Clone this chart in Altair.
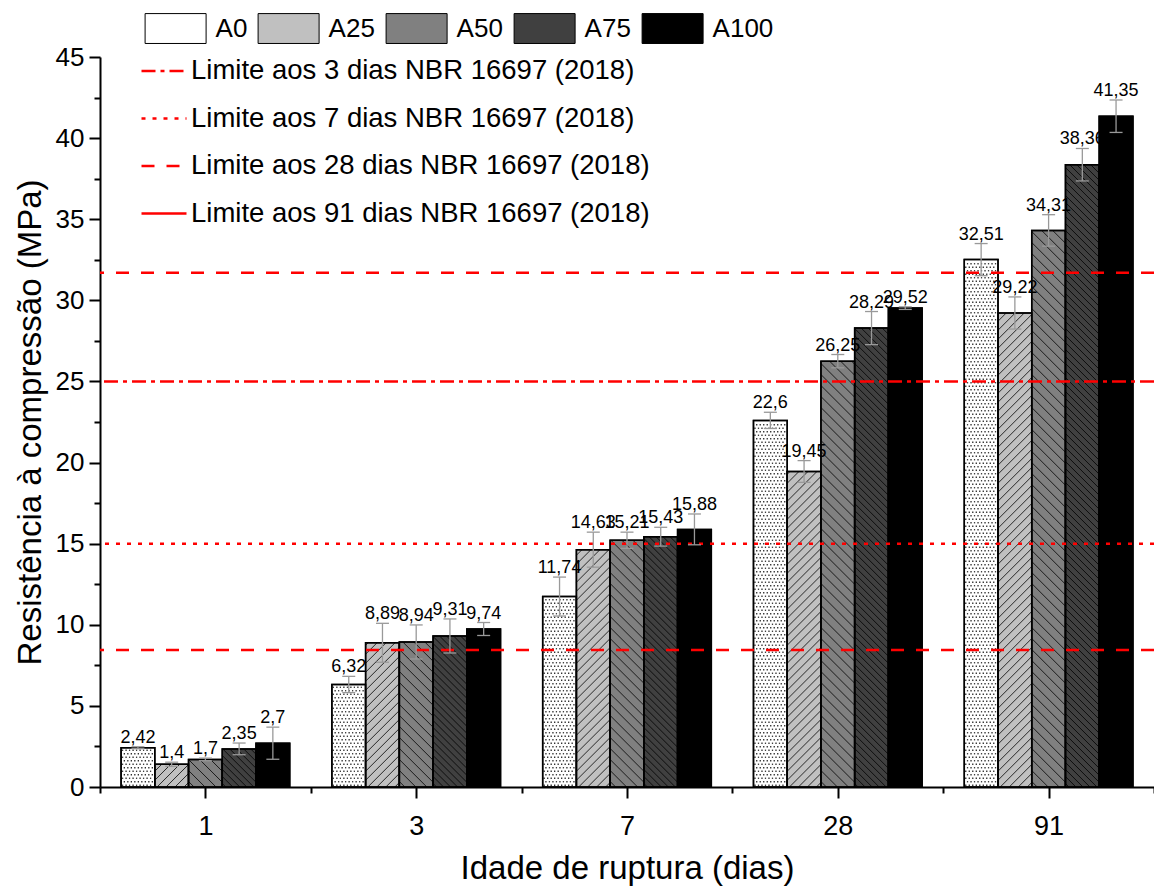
import json
import altair as alt
import pandas as pd

# Idades de ruptura (dias) e traços de argamassa
idades = ["1", "3", "7", "28", "91"]
series = ["A0", "A25", "A50", "A75", "A100"]

# Resistência média à compressão (MPa) por idade
A0 = [2.42, 6.32, 11.74, 22.6, 32.51]
A25 = [1.4, 8.89, 14.63, 19.45, 29.22]
A50 = [1.7, 8.94, 15.21, 26.25, 34.31]
A75 = [2.35, 9.31, 15.43, 28.29, 38.36]
A100 = [2.7, 9.74, 15.88, 29.52, 41.35]

# Desvio padrão (MPa)
dp_A0 = [0.06, 0.5, 1.2, 0.5, 0.99]
dp_A25 = [0.13, 1.2, 1.08, 0.67, 0.99]
dp_A50 = [0.08, 1.05, 0.5, 0.41, 0.97]
dp_A75 = [0.36, 1.05, 0.58, 1.02, 1.0]
dp_A100 = [0.99, 0.4, 0.95, 0.08, 1.0]

# Limites normativos (MPa)
limites_nome = [
    "Limite aos 3 dias NBR 16697 (2018)",
    "Limite aos 7 dias NBR 16697 (2018)",
    "Limite aos 28 dias NBR 16697 (2018)",
    "Limite aos 91 dias NBR 16697 (2018)",
]
limites_valor = [25.0, 15.0, 8.45, 31.7]

resist = [A0, A25, A50, A75, A100]
desvio = [dp_A0, dp_A25, dp_A50, dp_A75, dp_A100]

# --- aparência ---
cores = ["#ffffff", "#c0c0c0", "#808080", "#404040", "#000000"]
tracos = [[14, 5, 4, 5], [4, 7], [13, 12], [1, 0]]
hachura = {"A25": ("/", 9), "A50": ("\\", 11), "A75": ("\\", 7)}

LARG, ALT = 1054, 730
YMAX = 45
PX_X = LARG / len(idades)
PX_Y = ALT / YMAX
MARGEM = 0.1
BARRA = 0.16
CAPA = 6.5 / PX_X
FONTE = "Liberation Sans"


def linhas_hachura(x0, valor, sentido, passo):
    bw, bh = BARRA * PX_X, valor * PX_Y
    segs = []
    if sentido == "/":
        c = -bw + passo / 2
        while c < bh:
            xa, xb = max(0.0, -c), min(bw, bh - c)
            if xb > xa:
                segs.append((xa, xa + c, xb, xb + c))
            c += passo
    else:
        c = passo / 2
        while c < bh + bw:
            xa, xb = max(0.0, c - bh), min(bw, c)
            if xb > xa:
                segs.append((xa, c - xa, xb, c - xb))
            c += passo
    return [(x0 + a / PX_X, b / PX_Y, x0 + e / PX_X, d / PX_Y) for a, b, e, d in segs]


def pontilhado(x0, valor, passo=3.5):
    bw, bh = BARRA * PX_X, valor * PX_Y
    pts, y, r = [], passo / 2, 0
    while y < bh - 1:
        x = 1.5 + (r % 2) * passo / 2
        while x < bw - 1:
            pts.append((x0 + x / PX_X, y / PX_Y))
            x += passo
        y += passo
        r += 1
    return pts


barras, riscos, pontos = [], [], []
for i, idade in enumerate(idades):
    for k, s in enumerate(series):
        v, d = resist[k][i], desvio[k][i]
        x0 = i + MARGEM + k * BARRA
        xc = x0 + BARRA / 2
        barras.append({
            "idade": idade, "serie": s, "valor": v, "base": 0.0,
            "x0": x0, "x1": x0 + BARRA, "xc": xc,
            "topo": v + d, "baixo": v - d,
            "capa_l": xc - CAPA, "capa_r": xc + CAPA,
            "rotulo": str(v).replace(".", ","),
        })
        if s in hachura:
            sentido, passo = hachura[s]
            for a, b, e, f in linhas_hachura(x0, v, sentido, passo):
                riscos.append({"xa": a, "ya": b, "xb": e, "yb": f})
        if s == "A0":
            for a, b in pontilhado(x0, v):
                pontos.append({"px": a, "py": b})

df_barras = pd.DataFrame(barras)
df_riscos = pd.DataFrame(riscos)
df_pontos = pd.DataFrame(pontos)
df_limites = pd.DataFrame({"limite": limites_nome, "valor": limites_valor})

x_scale = alt.Scale(domain=[0, len(idades)], nice=False, zero=False)
y_scale = alt.Scale(domain=[0, YMAX], nice=False, zero=True)

AX_X = alt.Axis(
    values=[j * 0.5 for j in range(2 * len(idades) + 1)],
    labelExpr="datum.value % 1 === 0.5 ? " + json.dumps(idades) + "[floor(datum.value)] : ''",
    tickSize={"condition": {"test": "datum.value % 1 === 0.5", "value": 11}, "value": 6},
    tickWidth=2, tickColor="black", domainWidth=2, domainColor="black",
    labelFontSize=27, labelPadding=15, labelColor="black", labelOverlap=False,
    labelFont=FONTE, grid=False,
    title="Idade de ruptura (dias)", titleFontSize=33, titleFontWeight="normal",
    titleFont=FONTE, titleColor="black", titlePadding=13,
)
AX_Y = alt.Axis(
    values=[j * 2.5 for j in range(int(YMAX / 2.5) + 1)],
    labelExpr="datum.value % 5 === 0 ? datum.label : ''",
    tickSize={"condition": {"test": "datum.value % 5 === 0", "value": 11}, "value": 6},
    tickWidth=2, tickColor="black", domainWidth=2, domainColor="black",
    labelFontSize=26, labelPadding=5, labelColor="black", labelOverlap=False,
    labelFont=FONTE, grid=False,
    title="Resistência à compressão (MPa)", titleFontSize=33, titleFontWeight="normal",
    titleFont=FONTE, titleColor="black", titlePadding=8,
)

base_b = alt.Chart(df_barras)

barras_ch = base_b.mark_rect(stroke="black", strokeWidth=1.5).encode(
    x=alt.X("x0:Q", scale=x_scale, axis=AX_X),
    x2="x1:Q",
    y=alt.Y("valor:Q", scale=y_scale, axis=AX_Y),
    y2="base:Q",
    fill=alt.Fill(
        "serie:N",
        scale=alt.Scale(domain=series, range=cores),
        legend=alt.Legend(
            title=None, orient="none", legendX=44.6, legendY=-59.5,
            direction="horizontal", columns=len(series),
            symbolType="M-1,-0.49H1V0.49H-1Z", symbolSize=3721,
            symbolStrokeColor="black", symbolStrokeWidth=1,
            labelFontSize=26, labelFont=FONTE, labelColor="black",
            labelOffset=9, columnPadding=8, padding=0,
        ),
    ),
)

pontos_ch = alt.Chart(df_pontos).mark_square(size=1.6, color="black", opacity=0.85).encode(
    x=alt.X("px:Q", scale=x_scale, axis=AX_X),
    y=alt.Y("py:Q", scale=y_scale, axis=AX_Y),
)

riscos_ch = alt.Chart(df_riscos).mark_rule(color="black", strokeWidth=0.8).encode(
    x=alt.X("xa:Q", scale=x_scale, axis=AX_X),
    x2="xb:Q",
    y=alt.Y("ya:Q", scale=y_scale, axis=AX_Y),
    y2="yb:Q",
)

contorno_ch = base_b.mark_rect(fill=None, stroke="black", strokeWidth=1.5).encode(
    x=alt.X("x0:Q", scale=x_scale, axis=AX_X),
    x2="x1:Q",
    y=alt.Y("valor:Q", scale=y_scale, axis=AX_Y),
    y2="base:Q",
)

limites_ch = alt.Chart(df_limites).mark_rule(color="#ff0000", strokeWidth=2.5).encode(
    y=alt.Y("valor:Q", scale=y_scale, axis=AX_Y),
    strokeDash={
        "field": "limite", "type": "nominal",
        "scale": {"domain": limites_nome, "range": tracos},
        "condition": {"test": "datum.limite === " + json.dumps(limites_nome[3]), "value": tracos[2]},
        "legend": {
            "title": None, "orient": "none", "legendX": 40, "legendY": -10,
            "symbolType": "stroke", "symbolSize": 2025, "symbolStrokeWidth": 2.5,
            "symbolStrokeColor": "#ff0000", "labelFontSize": 27.5, "labelFont": FONTE,
            "labelColor": "black", "labelOffset": 3, "rowPadding": 9.5,
            "padding": 0, "labelLimit": 800,
        },
    },
)

erro_ch = base_b.mark_rule(color="#999999", strokeWidth=1.3).encode(
    x=alt.X("xc:Q", scale=x_scale, axis=AX_X),
    y=alt.Y("baixo:Q", scale=y_scale, axis=AX_Y),
    y2="topo:Q",
)
capa_sup = base_b.mark_rule(color="#999999", strokeWidth=1.3).encode(
    x=alt.X("capa_l:Q", scale=x_scale, axis=AX_X),
    x2="capa_r:Q",
    y=alt.Y("topo:Q", scale=y_scale, axis=AX_Y),
)
capa_inf = base_b.mark_rule(color="#999999", strokeWidth=1.3).encode(
    x=alt.X("capa_l:Q", scale=x_scale, axis=AX_X),
    x2="capa_r:Q",
    y=alt.Y("baixo:Q", scale=y_scale, axis=AX_Y),
)

rotulos_ch = base_b.mark_text(
    dy=-4, baseline="alphabetic", align="center", fontSize=18, font=FONTE, color="black"
).encode(
    x=alt.X("xc:Q", scale=x_scale, axis=AX_X),
    y=alt.Y("topo:Q", scale=y_scale, axis=AX_Y),
    text="rotulo:N",
)

chart = alt.layer(
    barras_ch, pontos_ch, riscos_ch, contorno_ch, limites_ch,
    erro_ch, capa_sup, capa_inf, rotulos_ch,
).properties(
    width=LARG, height=ALT,
    autosize=alt.AutoSizeParams(type="none"),
    padding={"left": 100, "top": 57, "right": 0, "bottom": 100},
    background="white",
).configure_view(stroke=None)

chart.save("out.html", embed_options={"renderer": "svg", "actions": False})
